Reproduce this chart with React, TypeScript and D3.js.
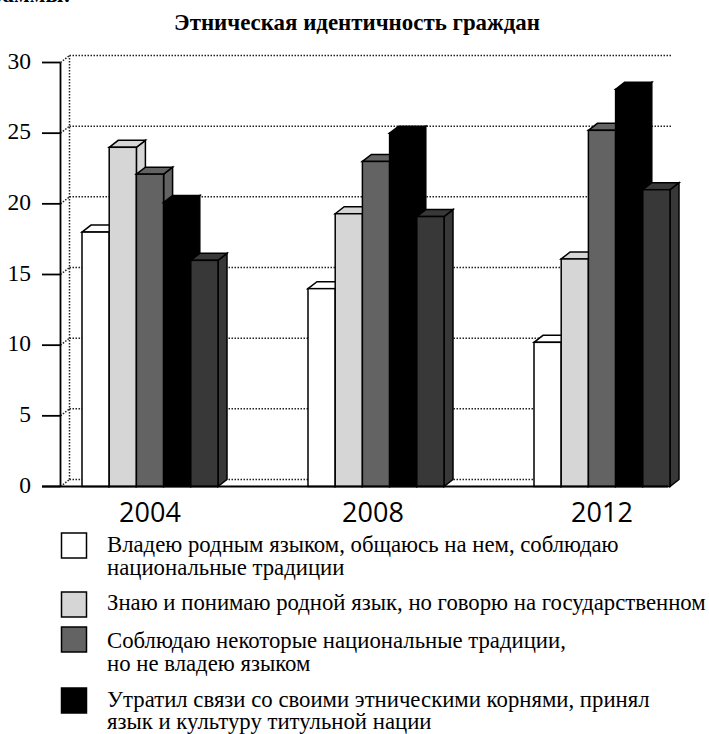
import React, { useEffect, useRef } from "react";
import * as d3 from "d3";

const TITLE = "Этническая идентичность граждан";
const YEARS = ["2004", "2008", "2012"];
const SERIES = ["a", "b", "c", "d", "e"];
const FILLS = ["#ffffff", "#d6d6d6", "#636363", "#000000", "#383838"];
const VALUES_2004 = [18, 24, 22.1, 20.1, 16];
const VALUES_2008 = [14, 19.3, 23, 25, 19.1];
const VALUES_2012 = [10.2, 16.1, 25.2, 28.1, 21];
const Y_TICKS = [0, 5, 10, 15, 20, 25, 30];
const LEGEND_1 = ["Владею родным языком, общаюсь на нем, соблюдаю", "национальные традиции"];
const LEGEND_2 = ["Знаю и понимаю родной язык, но говорю на государственном"];
const LEGEND_3 = ["Соблюдаю некоторые национальные традиции,", "но не владею языком"];
const LEGEND_4 = ["Утратил связи со своими этническими корнями, принял", "язык и культуру титульной нации"];

const W = 709;
const H = 734;
const SERIF = "'Liberation Serif', serif";
const DX = 9; // 3d depth of the bars
const DY = 7;

const App: React.FC = () => {
  const svgRef = useRef<SVGSVGElement>(null);

  useEffect(() => {
    const svg = d3.select(svgRef.current!);
    svg.selectAll("*").remove();

    const y = d3.scaleLinear().domain([0, 30]).range([486.5, 62.5]);
    const x0 = d3.scaleBand<string>().domain(YEARS).range([37, 715]);
    const x1 = d3.scaleBand<string>().domain(SERIES).range([45, 181]);

    // end of the sentence above the chart, cut by the top of the page
    svg.append("text")
      .attr("x", 71).attr("y", 1.5)
      .attr("text-anchor", "end")
      .attr("font-family", SERIF).attr("font-weight", "bold").attr("font-size", 23)
      .text("диаграммы:");

    svg.append("text")
      .attr("x", 357).attr("y", 30)
      .attr("text-anchor", "middle")
      .attr("font-family", SERIF).attr("font-weight", "bold").attr("font-size", 22.9)
      .text(TITLE);

    // Back wall and floor, dotted
    const grid = svg.append("g")
      .attr("fill", "none").attr("stroke", "#222").attr("stroke-width", 1.5).attr("stroke-dasharray", "1.5 1.5");
    Y_TICKS.forEach(t => {
      grid.append("line")
        .attr("x1", 60.5 + DX).attr("x2", 672)
        .attr("y1", y(t) - DY).attr("y2", y(t) - DY);
      grid.append("line")
        .attr("x1", 60.5).attr("x2", 60.5 + DX)
        .attr("y1", y(t)).attr("y2", y(t) - DY);
    });
    grid.append("line")
      .attr("x1", 60.5 + DX).attr("x2", 60.5 + DX)
      .attr("y1", y(0) - DY).attr("y2", y(30) - DY);

    // Bars
    const rows = [VALUES_2004, VALUES_2008, VALUES_2012];
    YEARS.forEach((year, i) => {
      const g = svg.append("g").attr("transform", `translate(${x0(year)},0)`);
      rows[i].forEach((v, j) => {
        const bx = x1(SERIES[j])!;
        const bw = x1.bandwidth();
        const top = y(v);
        const bottom = y(0);
        const bar = g.append("g").attr("fill", FILLS[j]).attr("stroke", "#000")
          .attr("stroke-width", 1.5).attr("stroke-linejoin", "miter");
        const side = d3.path();
        side.moveTo(bx + bw, top);
        side.lineTo(bx + bw + DX, top - DY);
        side.lineTo(bx + bw + DX, bottom - DY);
        side.lineTo(bx + bw, bottom);
        side.closePath();
        bar.append("path").attr("d", side.toString());
        const cap = d3.path();
        cap.moveTo(bx, top);
        cap.lineTo(bx + DX, top - DY);
        cap.lineTo(bx + bw + DX, top - DY);
        cap.lineTo(bx + bw, top);
        cap.closePath();
        bar.append("path").attr("d", cap.toString());
        bar.append("rect").attr("x", bx).attr("y", top).attr("width", bw).attr("height", bottom - top);
      });
    });

    // Axes
    svg.append("line")
      .attr("x1", 60.5).attr("x2", 60.5).attr("y1", y(30)).attr("y2", y(0))
      .attr("stroke", "#000").attr("stroke-width", 1.8);
    svg.append("line")
      .attr("x1", 42).attr("x2", 668).attr("y1", y(0)).attr("y2", y(0))
      .attr("stroke", "#000").attr("stroke-width", 1.8);
    Y_TICKS.forEach(t => {
      svg.append("line")
        .attr("x1", 42).attr("x2", 60.5).attr("y1", y(t)).attr("y2", y(t))
        .attr("stroke", "#000").attr("stroke-width", 1.8);
      svg.append("text")
        .attr("x", 31).attr("y", y(t) + 6)
        .attr("text-anchor", "end")
        .attr("font-family", SERIF).attr("font-size", 23.5)
        .text(t);
    });
    YEARS.forEach((year, i) => {
      // the middle label sits a little left of its group in the reference
      const nudge = i === 1 ? -3 : 0;
      svg.append("text")
        .attr("x", x0(year)! + x0.bandwidth() / 2 + nudge).attr("y", 522)
        .attr("text-anchor", "middle")
        .attr("font-family", "'Open Sans', sans-serif").attr("font-size", 27)
        .text(year);
    });

    // Legend
    const legend: [string, string[], number, number[]][] = [
      [FILLS[0], LEGEND_1, 533, [552, 575]],
      [FILLS[1], LEGEND_2, 592, [610]],
      [FILLS[2], LEGEND_3, 627, [648, 671]],
      [FILLS[3], LEGEND_4, 688, [707, 729]],
    ];
    legend.forEach(([fill, lines, top, baselines]) => {
      svg.append("rect")
        .attr("x", 61.5).attr("y", top).attr("width", 25).attr("height", 25)
        .attr("fill", fill).attr("stroke", "#000").attr("stroke-width", 1.5);
      lines.forEach((line, i) => {
        svg.append("text")
          .attr("x", 107).attr("y", baselines[i])
          .attr("font-family", SERIF).attr("font-size", 22.75)
          .text(line);
      });
    });
  }, []);

  return (
    <svg
      ref={svgRef}
      width={W}
      height={H}
      style={{ position: "absolute", left: 0, top: 0, background: "#fff", display: "block" }}
    />
  );
};

export default App;
